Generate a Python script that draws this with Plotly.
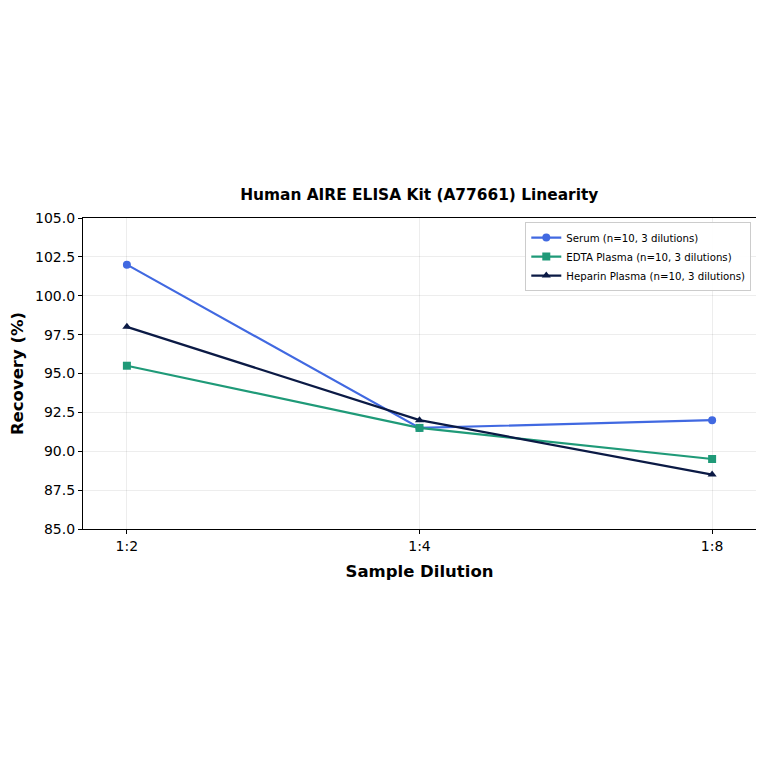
import plotly.graph_objects as go

dilutions = ["1:2", "1:4", "1:8"]
serum = [102.0, 91.5, 92.0]
edta_plasma = [95.5, 91.5, 89.5]
heparin_plasma = [98.0, 92.0, 88.5]

series = [
    ("Serum (n=10, 3 dilutions)", serum, "#4169E1", "circle"),
    ("EDTA Plasma (n=10, 3 dilutions)", edta_plasma, "#1f9a78", "square"),
    ("Heparin Plasma (n=10, 3 dilutions)", heparin_plasma, "#0b1a45", "triangle-up"),
]

fig = go.Figure()
for name, values, color, symbol in series:
    fig.add_trace(
        go.Scatter(
            x=list(range(len(dilutions))),
            y=values,
            mode="lines+markers",
            name=name,
            line={"color": color, "width": 2.2},
            marker={"symbol": symbol, "size": 8, "color": color},
        )
    )

font = "DejaVu Sans"
axis_common = dict(
    showline=True,
    linecolor="black",
    linewidth=1.2,
    mirror=True,
    ticks="outside",
    ticklen=4,
    tickcolor="black",
    showgrid=True,
    gridcolor="rgba(0,0,0,0.07)",
    zeroline=False,
    tickfont={"family": font, "size": 14, "color": "black"},
)

fig.update_xaxes(
    **axis_common,
    tickmode="array",
    tickvals=list(range(len(dilutions))),
    ticktext=dilutions,
    range=[-0.15, 2.15],
    title={"text": "<b>Sample Dilution</b>", "font": {"family": font, "size": 16.5, "color": "black"}, "standoff": 12},
)
fig.update_yaxes(
    **axis_common,
    range=[85, 105],
    dtick=2.5,
    tickformat=".1f",
    title={"text": "<b>Recovery (%)</b>", "font": {"family": font, "size": 16.5, "color": "black"}, "standoff": 8},
)

# page body adds an 8px offset, so the figure is 756 and margins shifted
fig.update_layout(
    width=756,
    height=756,
    margin={"l": 74, "r": 7, "t": 210, "b": 235},
    plot_bgcolor="white",
    paper_bgcolor="white",
    title={
        "text": "<b>Human AIRE ELISA Kit (A77661) Linearity</b>",
        "font": {"family": font, "size": 15.4, "color": "black"},
        "x": 0.544,
        "xanchor": "center",
        "y": 0.753,
        "yanchor": "middle",
    },
    legend={
        "x": 0.993,
        "y": 0.987,
        "xanchor": "right",
        "yanchor": "top",
        "bgcolor": "rgba(255,255,255,0.9)",
        "bordercolor": "#cccccc",
        "borderwidth": 1,
        "font": {"family": font, "size": 10.2, "color": "black"},
        "tracegroupgap": 0,
        "itemwidth": 30,
    },
    showlegend=True,
)

fig.write_html("out.html")
